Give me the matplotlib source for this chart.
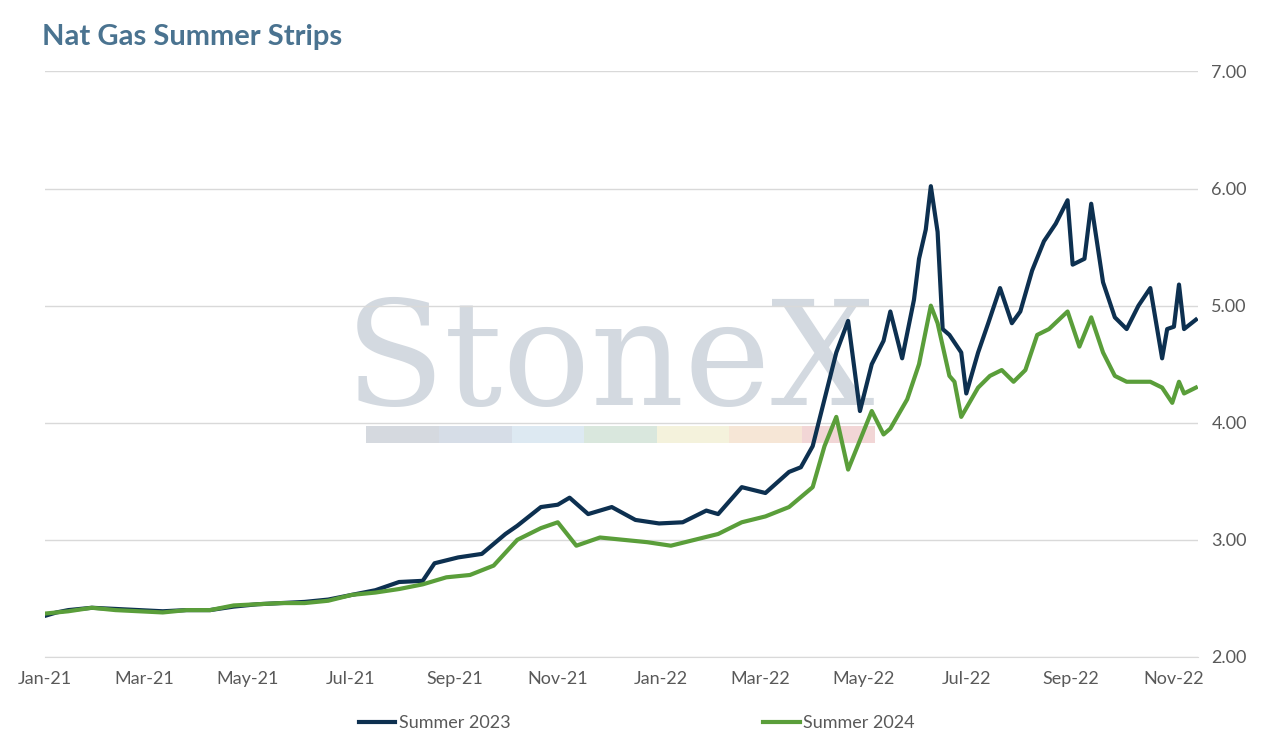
import numpy as np
import pandas as pd
import matplotlib.pyplot as plt
import matplotlib.dates as mdates
from matplotlib.patches import Rectangle

# Summer 2023 strip (dates, $/MMBtu)
dates_23 = ["2021-01-01", "2021-01-08", "2021-01-15", "2021-01-29", "2021-02-12", "2021-02-26",
            "2021-03-12", "2021-03-26", "2021-04-09", "2021-04-23", "2021-05-07", "2021-05-21",
            "2021-06-04", "2021-06-18", "2021-07-02", "2021-07-16", "2021-07-30", "2021-08-13",
            "2021-08-20", "2021-09-03", "2021-09-17", "2021-10-01", "2021-10-08", "2021-10-22",
            "2021-11-01", "2021-11-08", "2021-11-19", "2021-12-03", "2021-12-17", "2021-12-31",
            "2022-01-14", "2022-01-28", "2022-02-04", "2022-02-18", "2022-03-04", "2022-03-18",
            "2022-03-25", "2022-04-01", "2022-04-08", "2022-04-15", "2022-04-22", "2022-04-29",
            "2022-05-06", "2022-05-13", "2022-05-17", "2022-05-24", "2022-05-31", "2022-06-03",
            "2022-06-07", "2022-06-10", "2022-06-14", "2022-06-17", "2022-06-21", "2022-06-28",
            "2022-07-01", "2022-07-08", "2022-07-14", "2022-07-21", "2022-07-28", "2022-08-02",
            "2022-08-09", "2022-08-16", "2022-08-23", "2022-08-30", "2022-09-02", "2022-09-09",
            "2022-09-13", "2022-09-20", "2022-09-27", "2022-10-04", "2022-10-11", "2022-10-18",
            "2022-10-25", "2022-10-28", "2022-11-01", "2022-11-04", "2022-11-07", "2022-11-14"]
vals_23 = [2.35, 2.38, 2.40, 2.42, 2.41, 2.40,
           2.39, 2.40, 2.40, 2.43, 2.45, 2.46,
           2.47, 2.49, 2.53, 2.57, 2.64, 2.65,
           2.80, 2.85, 2.88, 3.05, 3.12, 3.28,
           3.30, 3.36, 3.22, 3.28, 3.17, 3.14,
           3.15, 3.25, 3.22, 3.45, 3.40, 3.58,
           3.62, 3.80, 4.20, 4.60, 4.87, 4.10,
           4.50, 4.70, 4.95, 4.55, 5.05, 5.40,
           5.65, 6.02, 5.63, 4.80, 4.75, 4.60,
           4.25, 4.60, 4.85, 5.15, 4.85, 4.95,
           5.30, 5.55, 5.70, 5.90, 5.35, 5.40,
           5.87, 5.20, 4.90, 4.80, 5.00, 5.15,
           4.55, 4.80, 4.82, 5.18, 4.80, 4.88]

# Summer 2024 strip
dates_24 = ["2021-01-01", "2021-01-08", "2021-01-15", "2021-01-29", "2021-02-12", "2021-02-26",
            "2021-03-12", "2021-03-26", "2021-04-09", "2021-04-23", "2021-05-07", "2021-05-21",
            "2021-06-04", "2021-06-18", "2021-07-02", "2021-07-16", "2021-07-30", "2021-08-13",
            "2021-08-27", "2021-09-10", "2021-09-24", "2021-10-08", "2021-10-22", "2021-11-01",
            "2021-11-12", "2021-11-26", "2021-12-10", "2021-12-24", "2022-01-07", "2022-01-21",
            "2022-02-04", "2022-02-18", "2022-03-04", "2022-03-18", "2022-04-01", "2022-04-08",
            "2022-04-15", "2022-04-22", "2022-04-29", "2022-05-06", "2022-05-13", "2022-05-17",
            "2022-05-27", "2022-06-03", "2022-06-10", "2022-06-14", "2022-06-21", "2022-06-24",
            "2022-06-28", "2022-07-08", "2022-07-15", "2022-07-22", "2022-07-29", "2022-08-05",
            "2022-08-12", "2022-08-19", "2022-08-30", "2022-09-06", "2022-09-13", "2022-09-20",
            "2022-09-27", "2022-10-04", "2022-10-18", "2022-10-25", "2022-10-31", "2022-11-04",
            "2022-11-07", "2022-11-14"]
vals_24 = [2.37, 2.38, 2.39, 2.42, 2.40, 2.39,
           2.38, 2.40, 2.40, 2.44, 2.45, 2.46,
           2.46, 2.48, 2.53, 2.55, 2.58, 2.62,
           2.68, 2.70, 2.78, 3.00, 3.10, 3.15,
           2.95, 3.02, 3.00, 2.98, 2.95, 3.00,
           3.05, 3.15, 3.20, 3.28, 3.45, 3.80,
           4.05, 3.60, 3.85, 4.10, 3.90, 3.95,
           4.20, 4.50, 5.00, 4.85, 4.40, 4.35,
           4.05, 4.30, 4.40, 4.45, 4.35, 4.45,
           4.75, 4.80, 4.95, 4.65, 4.90, 4.60,
           4.40, 4.35, 4.35, 4.30, 4.17, 4.35,
           4.25, 4.30]

tick_labels = ["Jan-21", "Mar-21", "May-21", "Jul-21", "Sep-21", "Nov-21",
               "Jan-22", "Mar-22", "May-22", "Jul-22", "Sep-22", "Nov-22"]

plt.rcParams['font.family'] = ['Lato', 'DejaVu Sans']
fig = plt.figure(figsize=(12.74, 7.44), dpi=100)
ax = fig.add_axes([0.035, 0.117, 0.905, 0.787])

d23 = pd.to_datetime(dates_23)
d24 = pd.to_datetime(dates_24)

# watermark
ax.text(0.49, 0.50, "StoneX", transform=ax.transAxes, ha='center', va='center',
        fontsize=105, family='DejaVu Serif', color='#d3d9e0', zorder=0)
wm_colors = ['#d5d9df', '#d6dde7', '#dde9f2', '#d9e7dd', '#f4f2dc', '#f6e6d6', '#f2d6d6']
for i, c in enumerate(wm_colors):
    ax.add_patch(Rectangle((0.279 + i * 0.063, 0.366), 0.063, 0.028,
                           transform=ax.transAxes, color=c, zorder=0, lw=0))

ax.plot(d23, vals_23, color='#0d3050', lw=3, label='Summer 2023', zorder=3)
ax.plot(d24, vals_24, color='#5a9e3a', lw=3, label='Summer 2024', zorder=3)

ax.set_ylim(2, 7)
ax.set_yticks([2, 3, 4, 5, 6, 7])
ax.set_yticklabels([f"{v:.2f}" for v in [2, 3, 4, 5, 6, 7]])
ax.yaxis.tick_right()
ax.grid(axis='y', color='#d9d9d9', lw=1)
ax.set_axisbelow(True)
ax.set_xlim(pd.Timestamp("2021-01-01"), pd.Timestamp("2022-11-15"))
ax.set_xticks(pd.date_range("2021-01-01", "2022-11-01", freq="2MS"))
ax.set_xticklabels(tick_labels)
ax.tick_params(axis='both', length=0, labelsize=13, colors='#595959', pad=10)
for s in ax.spines.values():
    s.set_visible(False)
ax.spines['bottom'].set_visible(True)
ax.spines['bottom'].set_color('#d9d9d9')

fig.text(0.033, 0.94, "Nat Gas Summer Strips", fontsize=21, fontweight='bold', color='#4a7390')
fig.legend(loc='lower center', ncol=2, frameon=False, fontsize=13, bbox_to_anchor=(0.5, -0.005),
           handlelength=2, handletextpad=0.2, columnspacing=14, labelcolor='#595959')

fig.savefig("out.png", dpi=100)
